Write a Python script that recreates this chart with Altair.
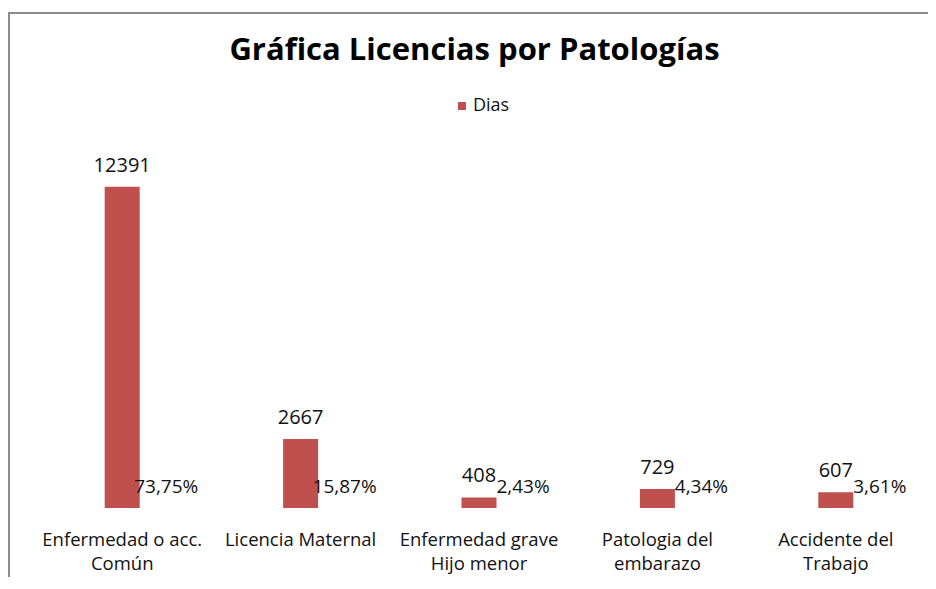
import altair as alt
import pandas as pd

categories = [
    "Enfermedad o acc.\nComún",
    "Licencia Maternal",
    "Enfermedad grave\nHijo menor",
    "Patologia del\nembarazo",
    "Accidente del\nTrabajo",
]
dias = [12391, 2667, 408, 729, 607]
porcentajes = ["73,75%", "15,87%", "2,43%", "4,34%", "3,61%"]

df = pd.DataFrame({"categoria": categories, "Dias": dias, "pct": porcentajes, "serie": ["Dias"] * 5})

FONT = "Open Sans"
RED = "#C0504D"

x = alt.X(
    "categoria:N",
    sort=categories,
    scale=alt.Scale(range=[24, 916], paddingInner=0, paddingOuter=0),
    axis=alt.Axis(
        title=None,
        ticks=False,
        domain=False,
        labelAngle=0,
        labelPadding=0,
        offset=-71,
        labelFont=FONT,
        labelFontSize=18.5,
        labelColor="#111111",
        labelLineHeight=24,
        labelLimit=300,
        labelExpr="split(datum.label, '\\n')",
    ),
)
y = alt.Y("Dias:Q", scale=alt.Scale(domain=[0, 19100], range=[495, 0]), axis=None)

bars = alt.Chart(df).mark_bar(size=35).encode(
    x=x,
    y=y,
    color=alt.Color(
        "serie:N",
        scale=alt.Scale(domain=["Dias"], range=[RED]),
        legend=alt.Legend(
            title=None,
            orient="none",
            legendX=444,
            legendY=84,
            padding=0,
            symbolType="square",
            symbolSize=64,
            symbolStrokeWidth=0,
            labelOffset=2,
            labelFont=FONT,
            labelFontSize=18,
            labelColor="#111111",
        ),
    ),
)

values = alt.Chart(df).mark_text(
    dy=-21, baseline="middle", align="center", font=FONT, fontSize=20, color="#111111"
).encode(x=x, y=y, text="Dias:Q")

pcts = alt.Chart(df).mark_text(
    dx=44, dy=-21, baseline="middle", align="center", font=FONT, fontSize=19, color="#111111"
).encode(x=x, y=alt.Y(datum=0, scale=alt.Scale(domain=[0, 19100], range=[495, 0]), axis=None), text="pct:N")

chart = (
    alt.layer(bars, values, pcts)
    .properties(
        width=931,
        height=588,
        background="white",
        autosize=alt.AutoSizeParams(type="none"),
        padding={"left": 1, "top": 5, "right": -12, "bottom": -24},
        title=alt.TitleParams(
            "Gráfica Licencias por Patologías",
            font=FONT,
            fontSize=31,
            fontWeight="bold",
            color="#000000",
            anchor="middle",
            baseline="alphabetic",
            offset=-49,
            dy=29,
        ),
    )
    .configure_view(stroke="#8c8c8c", strokeWidth=2)
)

chart.save("out.html", embed_options={"renderer": "svg", "actions": False})
